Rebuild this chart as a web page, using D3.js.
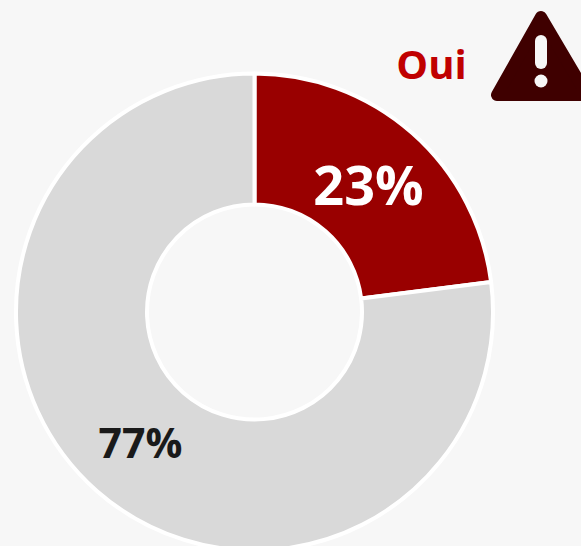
<!DOCTYPE html>
<html>
<head>
<meta charset="utf-8">
<script src="https://cdn.jsdelivr.net/npm/d3@7"></script>
<style>
  html, body { margin: 0; padding: 0; background: #f7f7f7; overflow: hidden; }
  text { font-family: "Open Sans", sans-serif; font-weight: 700; }
</style>
</head>
<body>
<div id="holder"></div>
<script>
var categories = ['Oui', 'Non'];
var values = [23, 77];
var labels = ['23%', '77%'];
var colors = ['#990000', '#d9d9d9'];

var width = 581, height = 546;
var cx = 254.5, cy = 312;

var svg = d3.select('#holder').append('svg')
  .attr('width', width)
  .attr('height', height)
  .style('display', 'block');

var pie = d3.pie().sort(null).value(function(d) { return d; });
var arc = d3.arc().innerRadius(107.5).outerRadius(238.5);

var g = svg.append('g').attr('transform', 'translate(' + cx + ',' + cy + ')');

g.selectAll('path')
  .data(pie(values))
  .enter().append('path')
  .attr('d', arc)
  .attr('fill', function(d, i) { return colors[i]; })
  .attr('stroke', '#fff')
  .attr('stroke-width', 4)
  .attr('stroke-linejoin', 'round');

// data labels
svg.append('text').attr('x', 368.5).attr('y', 205)
  .attr('text-anchor', 'middle').attr('font-size', 54).attr('fill', '#fff')
  .text(labels[0]);
svg.append('text').attr('x', 140.5).attr('y', 458)
  .attr('text-anchor', 'middle').attr('font-size', 41).attr('fill', '#1a1a1a')
  .text(labels[1]);

// legend word
svg.append('text').attr('x', 431.5).attr('y', 79)
  .attr('text-anchor', 'middle').attr('font-size', 40).attr('fill', '#c00000')
  .text(categories[0]);

// warning icon, runs off the right edge
var icon = svg.append('g');
icon.append('path')
  .attr('d', 'M541 17 L497 95 L587 95 Z')
  .attr('fill', '#3f0000')
  .attr('stroke', '#3f0000')
  .attr('stroke-width', 12)
  .attr('stroke-linejoin', 'round');
icon.append('rect')
  .attr('x', 535).attr('y', 35).attr('width', 12).attr('height', 34).attr('rx', 6)
  .attr('fill', '#f7f7f7');
icon.append('circle')
  .attr('cx', 541).attr('cy', 81).attr('r', 6.5)
  .attr('fill', '#f7f7f7');
</script>
</body>
</html>
